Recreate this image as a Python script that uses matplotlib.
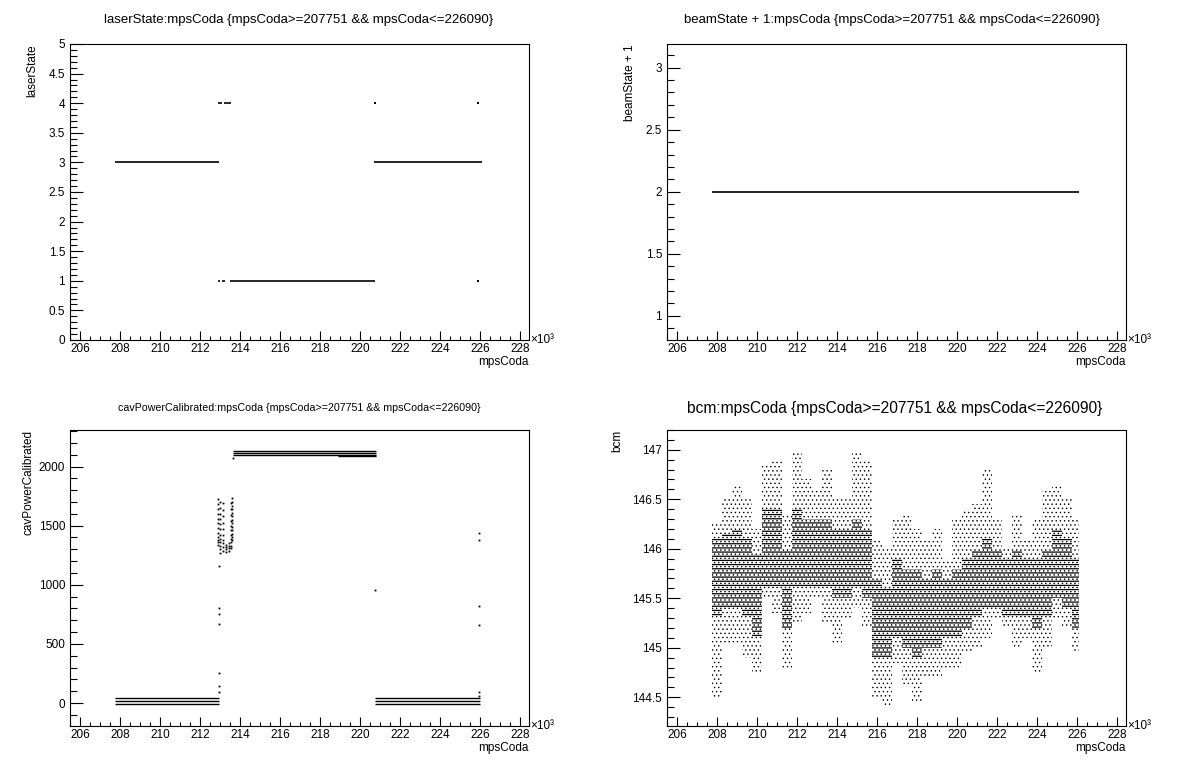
import matplotlib
matplotlib.use('Agg')
import matplotlib.pyplot as plt
from matplotlib.ticker import MultipleLocator, FormatStrFormatter

plt.rcParams['font.family'] = ['Liberation Sans', 'DejaVu Sans']
plt.rcParams['hatch.linewidth'] = 0.6
plt.rcParams['hatch.color'] = 'black'

CUT = '{mpsCoda>=207751 && mpsCoda<=226090}'

# mpsCoda is kept in units of 10^3 (as on the axis)
# laserState: horizontal runs of constant state, plus a few single events
laser_seg_start = [207.75, 220.72, 212.88, 213.12, 213.48, 212.90, 213.18]
laser_seg_end = [212.93, 226.09, 213.02, 213.23, 220.75, 213.12, 213.56]
laser_seg_state = [3, 3, 1, 1, 1, 4, 4]
laser_dot_x = [220.75, 225.92, 225.92]
laser_dot_y = [4, 4, 1]

# beamState + 1
beam_seg_start = [207.75]
beam_seg_end = [226.09]
beam_seg_value = [2]

# cavPowerCalibrated: flat bands (laser off / on)
cav_seg_start = [207.75, 207.75, 207.75, 220.75, 220.75, 220.75,
                 213.63, 213.63, 213.63, 218.90]
cav_seg_end = [212.95, 212.95, 212.95, 225.98, 225.98, 225.98,
               220.78, 220.78, 220.78, 220.78]
cav_seg_value = [40, 20, -8, 40, 20, -8, 2130, 2115, 2100, 2085]

# cavPowerCalibrated: scattered events around the state changes
cav_dot_x = ([212.92] * 12 + [213.02] * 12 + [213.15] * 10 + [213.30] * 4
             + [213.45] * 4 + [213.55] * 11 + [213.62] * 13
             + [212.93] * 7 + [213.64] + [220.75] + [225.95] * 6)
cav_dot_y = ([1725, 1680, 1640, 1600, 1560, 1520, 1480, 1440, 1400, 1380, 1360, 1340]
             + [1700, 1650, 1600, 1560, 1510, 1470, 1420, 1390, 1360, 1330, 1300, 1270]
             + [1690, 1630, 1580, 1520, 1470, 1420, 1380, 1350, 1320, 1290]
             + [1340, 1320, 1300, 1280]
             + [1350, 1330, 1310, 1290]
             + [1690, 1640, 1590, 1540, 1500, 1460, 1420, 1390, 1360, 1330, 1310]
             + [1730, 1700, 1670, 1640, 1610, 1580, 1550, 1520, 1490, 1460, 1430, 1400, 1380]
             + [1157, 800, 750, 666, 253, 143, 95]
             + [2075] + [953]
             + [1440, 1380, 820, 660, 90, 60])

# bcm: envelope read per 0.5k bin (full spread and dense core)
bcm_edges = [207.75, 208.25, 208.75, 209.25, 209.75, 210.25, 210.75, 211.25,
             211.75, 212.25, 212.75, 213.25, 213.75, 214.25, 214.75, 215.25,
             215.75, 216.25, 216.75, 217.25, 217.75, 218.25, 218.75, 219.25,
             219.75, 220.25, 220.75, 221.25, 221.75, 222.25, 222.75, 223.25,
             223.75, 224.25, 224.75, 225.25, 225.75, 226.09]
bcm_max = [146.25, 146.50, 146.65, 146.50, 146.20, 146.85, 146.90, 146.35,
           146.97, 146.70, 146.60, 146.80, 146.50, 146.50, 146.97, 146.90,
           146.10, 146.00, 146.30, 146.35, 146.20, 146.10, 146.20, 145.90,
           146.30, 146.40, 146.45, 146.80, 146.30, 146.00, 146.35, 146.10,
           146.30, 146.60, 146.65, 146.50, 146.30]
bcm_min = [144.50, 145.05, 145.05, 144.90, 144.75, 145.50, 145.35, 144.78,
           145.25, 145.35, 145.50, 145.25, 145.05, 145.30, 145.40, 145.20,
           144.50, 144.40, 144.85, 144.60, 144.45, 144.70, 144.70, 144.80,
           144.80, 144.95, 145.00, 145.10, 145.30, 145.20, 145.00, 145.10,
           144.75, 145.00, 145.30, 145.20, 144.95]
bcm_core_hi = [146.10, 146.15, 146.20, 146.10, 145.95, 146.40, 146.40, 146.00,
               146.40, 146.30, 146.30, 146.30, 146.20, 146.20, 146.30, 146.20,
               145.70, 145.60, 145.90, 145.80, 145.80, 145.70, 145.80, 145.70,
               145.80, 145.90, 146.00, 146.10, 146.00, 145.90, 146.00, 145.90,
               145.90, 146.00, 146.20, 146.10, 145.90]
bcm_core_lo = [145.30, 145.40, 145.40, 145.30, 145.10, 145.60, 145.60, 145.20,
               145.60, 145.60, 145.60, 145.60, 145.50, 145.50, 145.60, 145.50,
               144.90, 144.90, 145.10, 145.00, 144.90, 145.00, 145.00, 145.10,
               145.10, 145.20, 145.30, 145.40, 145.40, 145.30, 145.30, 145.30,
               145.20, 145.30, 145.50, 145.40, 145.20]

XMIN, XMAX = 205.5, 228.45

fig = plt.figure(figsize=(11.96, 7.72), dpi=100)
W, H = 1196, 772


def make_axes(left, top):
    # frame given in pixels: 459 x 296
    return fig.add_axes([left / W, 1 - (top + 296) / H, 459 / W, 296 / H])


def style(ax, ymin, ymax, ymajor, yminor, yfmt, ylabel, ylabel_x):
    ax.set_xlim(XMIN, XMAX)
    ax.set_ylim(ymin, ymax)
    ax.xaxis.set_major_locator(MultipleLocator(2))
    ax.xaxis.set_minor_locator(MultipleLocator(0.5))
    ax.xaxis.set_major_formatter(FormatStrFormatter('%d'))
    ax.yaxis.set_major_locator(MultipleLocator(ymajor))
    ax.yaxis.set_minor_locator(MultipleLocator(yminor))
    ax.yaxis.set_major_formatter(FormatStrFormatter(yfmt))
    for s in ax.spines.values():
        s.set_linewidth(0.8)
    ax.tick_params(axis='both', which='both', direction='in', width=0.8,
                   labelsize=8.5, top=False, right=False)
    ax.tick_params(axis='x', which='major', length=6.5, pad=2)
    ax.tick_params(axis='x', which='minor', length=3.2)
    ax.tick_params(axis='y', which='major', length=9.5, pad=3.5)
    ax.tick_params(axis='y', which='minor', length=4.7)
    ax.set_xlabel('mpsCoda', loc='right', fontsize=8.5, labelpad=1)
    ax.set_ylabel(ylabel, loc='top', fontsize=8.5)
    ax.yaxis.set_label_coords(ylabel_x, 1.0)
    ax.text(1.003, 0.0, '×10³', transform=ax.transAxes, ha='left',
            va='center', fontsize=8.5)


# laserState
ax1 = make_axes(70, 44)
ax1.hlines(laser_seg_state, laser_seg_start, laser_seg_end, color='black', lw=1.2)
ax1.plot(laser_dot_x, laser_dot_y, ls='none', marker='s', ms=1.5, mew=0, color='black')
style(ax1, 0, 5, 0.5, 0.1, '%g', 'laserState', -0.07)
fig.text(299 / W, 1 - 20 / H, 'laserState:mpsCoda ' + CUT, ha='center',
         va='center', fontsize=9.5)

# beamState + 1
ax2 = make_axes(667, 44)
ax2.hlines(beam_seg_value, beam_seg_start, beam_seg_end, color='black', lw=1.2)
style(ax2, 0.806, 3.19, 0.5, 0.1, '%g', 'beamState + 1', -0.068)
fig.text(892 / W, 1 - 20 / H, 'beamState + 1:mpsCoda ' + CUT, ha='center',
         va='center', fontsize=9.5)

# cavPowerCalibrated
ax3 = make_axes(70, 430)
ax3.hlines(cav_seg_value, cav_seg_start, cav_seg_end, color='black', lw=1.0)
ax3.plot(cav_dot_x, cav_dot_y, ls='none', marker='s', ms=1.3, mew=0, color='black')
style(ax3, -194, 2309, 500, 100, '%g', 'cavPowerCalibrated', -0.078)
fig.text(299 / W, 1 - 408 / H, 'cavPowerCalibrated:mpsCoda ' + CUT, ha='center',
         va='center', fontsize=7.7)

# bcm: sparse outer spread, dense core rows
ax4 = make_axes(667, 430)
with plt.rc_context({'hatch.linewidth': 0.5}):
    ax4.fill_between(bcm_edges, bcm_min + bcm_min[-1:], bcm_max + bcm_max[-1:],
                     step='post', facecolor='none', edgecolor='black',
                     hatch='....', linewidth=0)
with plt.rc_context({'hatch.linewidth': 0.9}):
    ax4.fill_between(bcm_edges, bcm_core_lo + bcm_core_lo[-1:],
                     bcm_core_hi + bcm_core_hi[-1:], step='post', facecolor='none',
                     edgecolor='black', hatch='----', linewidth=0)
style(ax4, 144.21, 147.20, 0.5, 0.1, '%g', 'bcm', -0.096)
fig.text(895 / W, 1 - 408 / H, 'bcm:mpsCoda ' + CUT, ha='center',
         va='center', fontsize=11.2)

fig.savefig('out.png', dpi=100)
